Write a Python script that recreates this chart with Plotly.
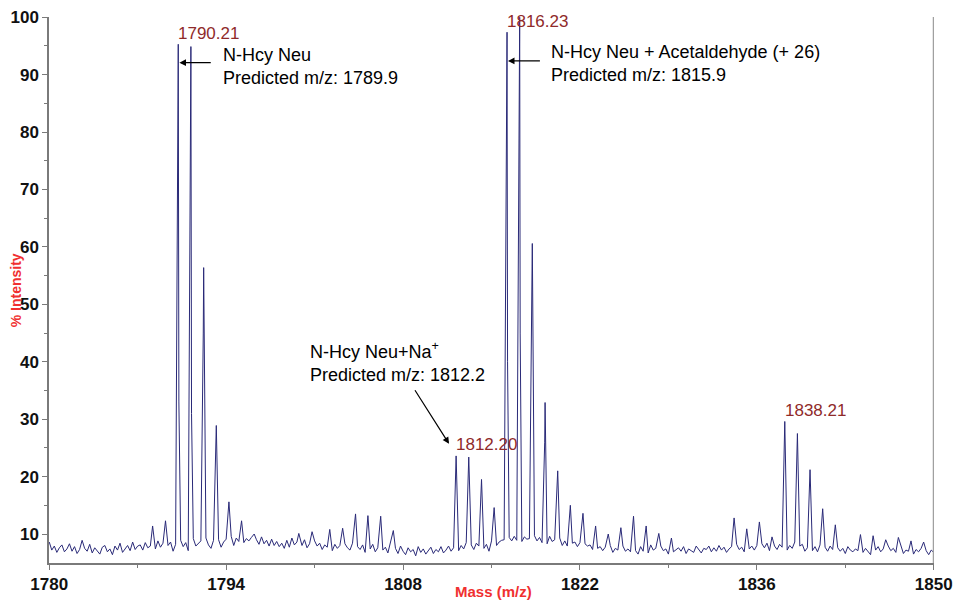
import numpy as np
import plotly.graph_objects as go

# Baseline trace of the spectrum, sampled every 0.2 m/z from 1780 to 1850
baseline = [
    8.6, 7.2, 7.9, 6.8, 7.6, 8.1, 6.9, 7.4, 8.3, 7.0,
    7.8, 6.6, 7.3, 8.9, 7.5, 7.0, 8.2, 6.7, 7.6, 7.1,
    6.5, 7.7, 8.0, 6.9, 7.4, 6.4, 7.9, 7.2, 8.4, 6.8,
    7.5, 8.0, 7.1, 8.6, 7.3, 7.9, 8.1, 7.2, 8.5, 7.6,
    7.9, 8.3, 7.4, 8.8, 7.7, 8.4, 7.2, 8.0, 8.6, 7.0,
    8.2, 7.4, 8.9, 7.8, 8.5, 7.1, 8.7, 9.2, 7.9, 8.4,
    8.8, 7.6, 9.3, 8.1, 7.5, 8.9, 8.2, 9.0, 7.7, 8.6,
    9.1, 8.4, 9.6, 8.0, 9.3, 8.7, 9.8, 8.5, 9.2, 8.8,
    9.4, 8.6, 9.0, 8.2, 9.5, 8.3, 8.9, 7.9, 9.1, 8.0,
    8.7, 7.8, 8.4, 7.5, 8.9, 7.7, 9.3, 8.1, 8.6, 7.4,
    8.0, 9.0, 7.6, 8.3, 7.2, 8.8, 7.9, 8.4, 7.3, 8.1,
    7.7, 8.6, 7.1, 8.2, 7.5, 8.0, 6.9, 8.3, 7.6, 7.2,
    8.4, 7.0, 7.8, 7.3, 8.1, 6.8, 7.9, 7.4, 8.2, 6.9,
    7.6, 8.0, 7.2, 7.7, 6.7, 8.3, 7.1, 7.5, 6.6, 7.9,
    7.0, 6.4, 7.6, 6.9, 7.3, 6.2, 7.8, 6.8, 7.4, 6.5,
    7.1, 7.7, 6.6, 7.3, 6.9, 7.8, 6.7, 7.2, 7.9, 7.0,
    7.6, 8.2, 7.1, 8.0, 7.4, 8.5, 7.7, 8.1, 7.3, 8.4,
    7.9, 8.6, 7.5, 8.2, 7.0, 8.8, 6.3, 8.0, 8.6, 8.9,
    9.0, 8.4, 9.4, 8.8, 9.6, 8.9, 9.3, 8.7, 9.5, 9.1,
    9.2, 8.6, 9.7, 8.8, 9.4, 8.5, 9.1, 8.3, 9.6, 8.7,
    9.0, 8.2, 9.3, 8.0, 8.8, 7.9, 9.1, 8.4, 8.6, 7.8,
    8.5, 7.6, 8.3, 7.9, 8.1, 7.3, 8.4, 7.5, 7.8, 7.1,
    7.7, 7.0, 8.0, 6.8, 7.5, 7.2, 6.6, 7.9, 7.0, 7.4,
    6.9, 7.6, 7.1, 6.5, 7.8, 7.0, 7.4, 6.7, 8.1, 7.2,
    7.5, 6.8, 7.9, 7.1, 7.4, 6.5, 7.7, 6.9, 7.3, 7.6,
    7.0, 7.8, 6.6, 7.4, 7.1, 6.8, 7.9, 7.2, 6.7, 7.5,
    7.3, 7.9, 6.9, 7.6, 7.0, 8.0, 7.2, 7.7, 6.8, 7.4,
    7.8, 7.1, 8.2, 7.3, 7.7, 6.9, 8.1, 7.4, 7.9, 7.2,
    8.0, 7.5, 8.3, 7.6, 8.4, 7.1, 8.6, 7.9, 7.3, 8.2,
    7.7, 8.4, 7.2, 8.0, 7.5, 8.6, 7.3, 7.9, 8.2, 7.0,
    7.6, 8.3, 7.1, 7.8, 6.9, 8.1, 7.4, 7.7, 7.0, 7.9,
    7.3, 6.8, 7.6, 7.0, 7.5, 6.6, 7.8, 7.2, 6.9, 7.4,
    7.1, 7.7, 6.8, 7.5, 7.0, 6.4, 7.6, 7.2, 7.8, 6.9,
    7.4, 6.7, 7.9, 7.1, 7.5, 6.8, 7.3, 7.8, 6.6, 7.2,
    7.0, 7.6, 6.5, 7.3, 6.9, 7.5, 6.7, 7.1, 6.4, 7.2,
    6.8,
]
baseline_mz = np.round(np.linspace(1780.0, 1850.0, len(baseline)), 2)

# Peak apexes (m/z, % intensity)
peak_mz = [
    1788.18, 1789.20, 1790.21, 1791.21, 1792.22, 1793.22, 1794.22, 1795.22, 1796.22,
    1799.75, 1800.80, 1802.20, 1803.22, 1804.24, 1805.22, 1806.23, 1807.23,
    1812.20, 1813.20, 1814.21, 1815.21,
    1816.23, 1817.23, 1818.23, 1819.24, 1820.24, 1821.24, 1822.24, 1823.24,
    1824.24, 1825.24, 1826.24, 1827.24, 1828.24, 1829.24,
    1834.20, 1835.20, 1836.20, 1837.20,
    1838.21, 1839.21, 1840.21, 1841.21, 1842.21,
    1844.20, 1845.20, 1846.20, 1847.20, 1848.20, 1849.20,
]
peak_int = [
    11.4, 12.3, 95.3, 94.9, 56.4, 28.9, 15.6, 12.3, 10.0,
    10.1, 10.4, 10.8, 11.0, 13.5, 13.2, 13.1, 10.6,
    23.6, 23.4, 19.5, 14.6,
    97.4, 100.0, 60.6, 32.9, 21.0, 15.0, 13.6, 11.4,
    10.0, 11.1, 13.1, 11.4, 10.1, 9.3,
    12.8, 10.9, 12.1, 9.5,
    29.6, 27.5, 21.2, 14.4, 11.6,
    9.9, 9.7, 9.0, 9.4, 8.8, 8.6,
]

# Points on the flanks of the strongest peaks
flank_mz = [1790.17, 1790.26, 1791.17, 1791.26, 1792.19, 1816.19, 1816.27,
            1817.19, 1817.27, 1818.20, 1819.21]
flank_int = [70.5, 33.0, 69.0, 31.0, 45.0, 82.0, 40.0, 86.0, 45.0, 48.0, 26.0]

# Labelled peaks
label_mz = [1790.21, 1816.23, 1812.20, 1838.21]
label_int = [95.3, 97.4, 23.6, 29.6]
label_txt = ["1790.21", "1816.23", "1812.20", "1838.21"]

# Build one profile trace: baseline samples away from apexes, plus apexes and flanks
pk = np.array(peak_mz)
keep = [i for i, m in enumerate(baseline_mz) if np.min(np.abs(pk - m)) > 0.12]
xs = list(baseline_mz[keep]) + peak_mz + flank_mz
ys = [baseline[i] for i in keep] + peak_int + flank_int
order = np.argsort(xs)
xs = np.array(xs)[order]
ys = np.array(ys)[order]

fig = go.Figure()
fig.add_trace(go.Scatter(
    x=xs, y=ys, mode="lines",
    line=dict(color="#2a2a78", width=1),
    hoverinfo="skip", showlegend=False,
))

label_color = "#8f2a2a"
annotations = []
for m, v, t in zip(label_mz, label_int, label_txt):
    annotations.append(dict(
        x=m, y=v, xref="x", yref="y", text=t, showarrow=False,
        xanchor="left", yanchor="middle", xshift=-2, yshift=11,
        font=dict(family="Liberation Sans, Arial", size=17, color=label_color),
    ))

note_font = dict(family="Liberation Sans, Arial", size=18, color="#000000")
notes = [
    (1793.6, 91.5, "N-Hcy Neu<br>Predicted m/z: 1789.9"),
    (1819.55, 92.0, "N-Hcy Neu + Acetaldehyde (+ 26)<br>Predicted m/z: 1815.9"),
    (1800.45, 40.0, "N-Hcy Neu+Na<sup>+</sup><br>Predicted m/z: 1812.2"),
]
for x, y, t in notes:
    annotations.append(dict(
        x=x, y=y, xref="x", yref="y", text=t, showarrow=False,
        xanchor="left", yanchor="middle", align="left", font=note_font,
    ))

# Arrows pointing at the assigned peaks: (tip x, tip y, tail x, tail y)
arrows = [
    (1790.3, 92.1, 1792.9, 92.1),
    (1816.3, 92.4, 1818.95, 92.4),
    (1811.64, 25.7, 1808.87, 35.3),
]
for x, y, ax, ay in arrows:
    annotations.append(dict(
        x=x, y=y, ax=ax, ay=ay, xref="x", yref="y", axref="x", ayref="y",
        text="", showarrow=True, arrowhead=2, arrowsize=1.1, arrowwidth=1.2,
        arrowcolor="#000000",
    ))

annotations.append(dict(
    x=-0.037, y=0.5, xref="paper", yref="paper", text="% Intensity",
    showarrow=False, textangle=-90, xanchor="center", yanchor="middle",
    font=dict(family="Liberation Sans, Arial", size=14, color="#f03030", weight=700),
))
annotations.append(dict(
    x=0.502, y=-0.053, xref="paper", yref="paper", text="Mass (m/z)",
    showarrow=False, xanchor="center", yanchor="middle",
    font=dict(family="Liberation Sans, Arial", size=15, color="#f03030", weight=700),
))

tick_font = dict(family="Liberation Sans, Arial", size=17, color="#111111", weight=700)
axis_color = "#7a7a7a"

fig.update_layout(
    width=954, height=600,
    margin=dict(l=49, r=20, t=17, b=37),
    paper_bgcolor="white", plot_bgcolor="white",
    annotations=annotations,
    shapes=[dict(type="line", xref="x", yref="paper", x0=1850, x1=1850, y0=0, y1=1,
                 line=dict(color="#a0a0a0", width=2))],
    xaxis=dict(
        range=[1779.98, 1850.02], tick0=1780, dtick=14, showgrid=False, zeroline=False,
        automargin=False,
        showline=True, linecolor=axis_color, linewidth=1.5,
        ticks="outside", ticklen=5, tickcolor=axis_color, tickwidth=1,
        tickfont=tick_font,
        minor=dict(dtick=7, tick0=1780, ticks="outside", ticklen=3, tickcolor=axis_color, showgrid=False),
    ),
    yaxis=dict(
        range=[4.95, 100.05], tickvals=list(range(10, 101, 10)), showgrid=False, zeroline=False,
        automargin=False,
        showline=True, linecolor=axis_color, linewidth=1.5,
        ticks="outside", ticklen=5, tickcolor=axis_color, tickwidth=1,
        tickfont=tick_font,
        minor=dict(tickvals=list(range(15, 100, 10)), ticks="outside", ticklen=3, tickcolor=axis_color, showgrid=False),
    ),
)

fig.write_html("out.html")
